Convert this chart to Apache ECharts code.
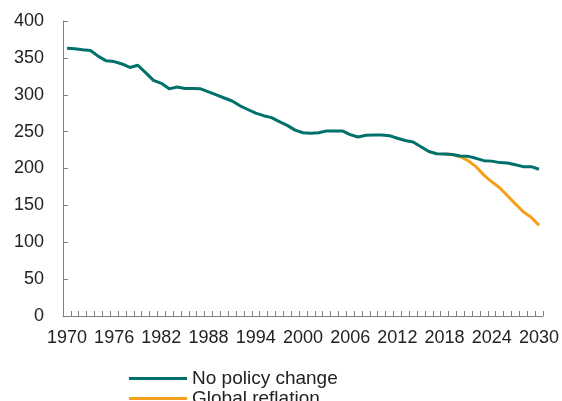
<!DOCTYPE html>
<html>
<head>
<meta charset="utf-8">
<script src="https://cdn.jsdelivr.net/npm/echarts@6/dist/echarts.min.js"></script>
<style>html,body{margin:0;padding:0;background:#fff;}#c{width:562px;height:401px;}</style>
</head>
<body>
<div id="c"></div>
<script>
var years = [];
for (var y = 1970; y <= 2030; y++) years.push(String(y));

var noPolicyChange = [
  363, 362.5, 361, 360, 352, 346, 345, 341.7, 337, 340,
  330, 319.5, 315.5, 308, 310.5, 308.5, 308.5, 308, 304, 299.7,
  295.6, 291.5, 285, 280, 275, 271.6, 269, 263.5, 258.5, 252,
  248.5, 247.7, 248.5, 251, 251, 251, 246, 242.7, 245, 245.5,
  245.5, 244.5, 241, 238, 236, 229.6, 223, 220, 219.6, 219,
  217, 216.5, 213.8, 210.6, 210, 208, 207.5, 205, 202.5, 202.5,
  199
];

var globalReflation = [
  null, null, null, null, null, null, null, null, null, null,
  null, null, null, null, null, null, null, null, null, null,
  null, null, null, null, null, null, null, null, null, null,
  null, null, null, null, null, null, null, null, null, null,
  null, null, null, null, null, null, null, null, 219.6, 219,
  216, 210.6, 202.5, 191, 182, 174, 163, 152, 141.4, 134,
  123
];

var seriesNames = ['No policy change', 'Global reflation'];

var legendCommon = {
  orient: 'vertical',
  left: 124,
  itemWidth: 58,
  itemHeight: 14,
  icon: 'path://M0,6 L58,6 L58,9 L0,9 Z',
  textStyle: {fontSize: 19, color: '#222', fontFamily: 'Liberation Sans, Arial, sans-serif'}
};

var chart = echarts.init(document.getElementById('c'), null, {renderer: 'canvas'});
chart.setOption({
  animation: false,
  backgroundColor: '#ffffff',
  textStyle: {fontFamily: 'Liberation Sans, Arial, sans-serif'},
  grid: {left: 63, right: 19, top: 21, bottom: 85, containLabel: false},
  legend: [
    Object.assign({}, legendCommon, {top: 364, data: [seriesNames[0]]}),
    Object.assign({}, legendCommon, {top: 384, data: [seriesNames[1]]})
  ],
  xAxis: {
    type: 'category',
    data: years,
    boundaryGap: true,
    axisLine: {lineStyle: {color: '#7f7f7f', width: 1}},
    axisTick: {show: true, inside: true, length: 5, interval: 0, lineStyle: {color: '#7f7f7f'}},
    axisLabel: {interval: 5, fontSize: 18, color: '#222', margin: 13, fontFamily: 'Liberation Sans, Arial, sans-serif'},
    splitLine: {show: false}
  },
  yAxis: {
    type: 'value',
    min: 0,
    max: 400,
    interval: 50,
    axisLine: {show: true, lineStyle: {color: '#7f7f7f', width: 1}},
    axisTick: {show: true, inside: true, length: 5, lineStyle: {color: '#7f7f7f'}},
    axisLabel: {fontSize: 18, color: '#222', margin: 19, fontFamily: 'Liberation Sans, Arial, sans-serif'},
    splitLine: {show: false}
  },
  series: [
    {
      name: seriesNames[0],
      type: 'line',
      data: noPolicyChange,
      symbol: 'none',
      lineStyle: {color: '#00716A', width: 3},
      itemStyle: {color: '#00716A'},
      z: 3
    },
    {
      name: seriesNames[1],
      type: 'line',
      data: globalReflation,
      symbol: 'none',
      lineStyle: {color: '#F5A01A', width: 3},
      itemStyle: {color: '#F5A01A'},
      z: 2
    }
  ]
});
</script>
</body>
</html>
